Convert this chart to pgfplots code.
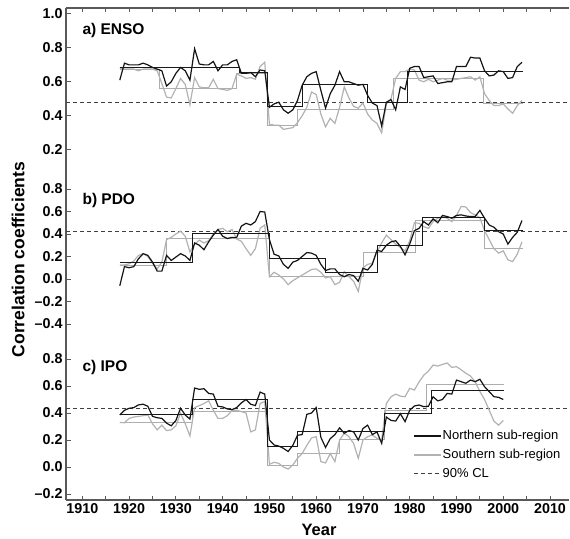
\documentclass[border=0pt]{standalone}
\usepackage{fontspec}
\setmainfont{Liberation Sans}
\usepackage{pgfplots}
\pgfplotsset{compat=1.18}
\usepackage{pgfplotstable}

\pgfplotstableread{
year N S
1918 0.61 0.68
1919 0.71 0.675
1920 0.70 0.675
1921 0.70 0.675
1922 0.70 0.665
1923 0.71 0.675
1924 0.70 0.675
1925 0.685 0.675
1926 0.675 0.665
1927 0.665 0.59
1928 0.575 0.51
1929 0.60 0.505
1930 0.65 0.56
1931 0.685 0.62
1932 0.665 0.585
1933 0.61 0.465
1934 0.795 0.625
1935 0.705 0.57
1936 0.70 0.565
1937 0.70 0.565
1938 0.72 0.615
1939 0.665 0.56
1940 0.70 0.555
1941 0.70 0.55
1942 0.72 0.56
1943 0.73 0.645
1944 0.65 0.635
1945 0.65 0.62
1946 0.655 0.625
1947 0.63 0.615
1948 0.67 0.69
1949 0.665 0.715
1950 0.45 0.35
1951 0.47 0.345
1952 0.48 0.345
1953 0.435 0.32
1954 0.415 0.325
1955 0.435 0.33
1956 0.49 0.36
1957 0.58 0.40
1958 0.63 0.45
1959 0.65 0.54
1960 0.66 0.525
1961 0.55 0.41
1962 0.445 0.335
1963 0.53 0.385
1964 0.58 0.355
1965 0.66 0.45
1966 0.60 0.57
1967 0.60 0.505
1968 0.59 0.455
1969 0.58 0.445
1970 0.585 0.475
1971 0.52 0.41
1972 0.475 0.375
1973 0.46 0.355
1974 0.34 0.30
1975 0.48 0.47
1976 0.495 0.50
1977 0.435 0.62
1978 0.57 0.66
1979 0.555 0.66
1980 0.68 0.675
1981 0.69 0.67
1982 0.69 0.61
1983 0.625 0.60
1984 0.63 0.615
1985 0.635 0.60
1986 0.59 0.61
1987 0.595 0.62
1988 0.60 0.61
1989 0.60 0.61
1990 0.69 0.615
1991 0.69 0.62
1992 0.69 0.625
1993 0.745 0.63
1994 0.74 0.61
1995 0.74 0.63
1996 0.665 0.53
1997 0.635 0.49
1998 0.64 0.46
1999 0.665 0.46
2000 0.66 0.47
2001 0.62 0.44
2002 0.625 0.415
2003 0.69 0.46
2004 0.715 0.49
}\tabA

\pgfplotstableread{
year N S
1918 -0.06 0.125
1919 0.11 0.125
1920 0.10 0.135
1921 0.11 0.16
1922 0.18 0.21
1923 0.225 0.225
1924 0.21 0.20
1925 0.15 0.14
1926 0.07 0.09
1927 0.07 0.15
1928 0.21 0.35
1929 0.165 0.37
1930 0.195 0.40
1931 0.225 0.425
1932 0.205 0.38
1933 0.165 0.24
1934 0.32 0.31
1935 0.30 0.345
1936 0.26 0.32
1937 0.33 0.34
1938 0.39 0.40
1939 0.44 0.44
1940 0.38 0.45
1941 0.36 0.42
1942 0.37 0.44
1943 0.37 0.355
1944 0.47 0.335
1945 0.495 0.27
1946 0.48 0.21
1947 0.51 0.27
1948 0.60 0.45
1949 0.595 0.48
1950 0.35 0.02
1951 0.22 0.06
1952 0.205 0.035
1953 0.13 0.0
1954 0.095 -0.05
1955 0.15 -0.015
1956 0.165 0.01
1957 0.20 0.035
1958 0.235 0.06
1959 0.23 0.085
1960 0.21 0.09
1961 0.13 0.06
1962 0.075 0.01
1963 0.09 0.02
1964 0.09 -0.05
1965 0.04 -0.03
1966 0.02 0.065
1967 0.04 0.02
1968 0.03 -0.02
1969 -0.02 -0.11
1970 0.095 0.10
1971 0.08 0.13
1972 0.13 0.14
1973 0.255 0.24
1974 0.245 0.32
1975 0.30 0.39
1976 0.33 0.35
1977 0.34 0.31
1978 0.29 0.28
1979 0.215 0.25
1980 0.31 0.34
1981 0.43 0.50
1982 0.45 0.495
1983 0.51 0.465
1984 0.48 0.45
1985 0.535 0.51
1986 0.50 0.54
1987 0.565 0.555
1988 0.555 0.54
1989 0.54 0.51
1990 0.565 0.565
1991 0.57 0.645
1992 0.56 0.64
1993 0.555 0.59
1994 0.555 0.57
1995 0.61 0.545
1996 0.54 0.43
1997 0.48 0.35
1998 0.46 0.27
1999 0.42 0.23
2000 0.40 0.25
2001 0.31 0.17
2002 0.37 0.155
2003 0.415 0.22
2004 0.52 0.33
}\tabB

\pgfplotstableread{
year N S
1918 0.385 0.33
1919 0.42 0.328
1920 0.435 0.36
1921 0.44 0.37
1922 0.46 0.375
1923 0.465 0.38
1924 0.45 0.385
1925 0.375 0.32
1926 0.365 0.275
1927 0.36 0.31
1928 0.325 0.27
1929 0.305 0.275
1930 0.345 0.305
1931 0.435 0.40
1932 0.385 0.32
1933 0.355 0.23
1934 0.585 0.44
1935 0.575 0.455
1936 0.58 0.47
1937 0.545 0.49
1938 0.54 0.42
1939 0.45 0.36
1940 0.445 0.36
1941 0.43 0.38
1942 0.425 0.42
1943 0.44 0.42
1944 0.475 0.41
1945 0.50 0.40
1946 0.465 0.26
1947 0.455 0.275
1948 0.555 0.47
1949 0.54 0.485
1950 0.20 0.02
1951 0.163 0.035
1952 0.155 0.027
1953 0.138 0.0
1954 0.115 -0.015
1955 0.16 0.015
1956 0.235 0.064
1957 0.24 0.10
1958 0.39 0.16
1959 0.40 0.215
1960 0.44 0.225
1961 0.22 0.04
1962 0.145 0.03
1963 0.21 0.10
1964 0.24 0.04
1965 0.29 0.20
1966 0.25 0.25
1967 0.27 0.225
1968 0.26 0.175
1969 0.20 0.064
1970 0.285 0.20
1971 0.31 0.225
1972 0.24 0.237
1973 0.26 0.212
1974 0.175 0.20
1975 0.37 0.47
1976 0.345 0.52
1977 0.34 0.54
1978 0.395 0.525
1979 0.336 0.52
1980 0.42 0.583
1981 0.452 0.57
1982 0.459 0.63
1983 0.447 0.68
1984 0.45 0.71
1985 0.52 0.755
1986 0.49 0.748
1987 0.50 0.76
1988 0.545 0.77
1989 0.54 0.738
1990 0.644 0.743
1991 0.632 0.72
1992 0.62 0.694
1993 0.644 0.674
1994 0.632 0.63
1995 0.65 0.56
1996 0.595 0.50
1997 0.558 0.42
1998 0.521 0.34
1999 0.516 0.31
2000 0.50 0.345
}\tabC

\pgfplotsset{
  panel/.style={
    scale only axis, width=503pt, xmin=1906.5, xmax=2014.06,
    axis y line*=left,
    axis line style={draw=black!65, line width=1.2pt},
    tick style={draw=black!65, line width=0.9pt},
    major tick length=4.5pt, minor tick length=4.5pt,
    xtick={1910,1920,...,2010}, minor xtick={1915,1925,...,2005},
    tick align=inside,
    ticklabel style={font=\fontsize{14.3}{16}\selectfont\bfseries},
  },
  serN/.style={color=black!92, line width=1.2pt},
  serS/.style={color=black!30, line width=1.2pt},
  stepN/.style={color=black!90, line width=0.8pt},
  stepS/.style={color=black!32, line width=0.9pt},
  cl/.style={color=black!75, line width=0.9pt, dash pattern=on 4pt off 3pt},
}

\begin{document}
\begin{tikzpicture}
\path[use as bounding box] (0pt,0pt) rectangle (570pt,538pt);

% Panel a) ENSO
\begin{axis}[panel, at={(66pt,371.3pt)}, anchor=south west, height=158.7pt,
  ymin=0.1, ymax=1.035, axis x line*=top, xticklabels={},
  ytick={0.2,0.4,0.6,0.8,1.0}, yticklabels={0.2,0.4,0.6,0.8,1.0}]
\addplot[cl] coordinates {(1906.5,0.48) (2014.06,0.48)};
\addplot[stepS] coordinates {(1918,0.675) (1926.5,0.675) (1926.5,0.563) (1943,0.563) (1943,0.65) (1949.5,0.65) (1949.5,0.343) (1956,0.343) (1956,0.44) (1976.5,0.44) (1976.5,0.62) (1995.7,0.62) (1995.7,0.47) (2004.3,0.47)};
\addplot[serS] table[x=year,y=S] {\tabA};
\addplot[stepN] coordinates {(1918,0.683) (1943.5,0.683) (1943.5,0.655) (1949.5,0.655) (1949.5,0.455) (1957,0.455) (1957,0.585) (1971,0.585) (1971,0.48) (1979.5,0.48) (1979.5,0.66) (2004.3,0.66)};
\addplot[serN] table[x=year,y=N] {\tabA};
\end{axis}

% Panel b) PDO
\begin{axis}[panel, at={(66pt,198pt)}, anchor=south west, height=173.3pt,
  ymin=-0.542, ymax=0.998, axis x line=none,
  ytick={-0.4,-0.2,0,0.2,0.4,0.6,0.8}, yticklabels={–0.4,–0.2,0.0,0.2,0.4,0.6,0.8}]
\addplot[cl] coordinates {(1906.5,0.425) (2014.06,0.425)};
\addplot[stepS] coordinates {(1918,0.12) (1928,0.12) (1928,0.361) (1950,0.361) (1950,0.02) (1970.2,0.02) (1970.2,0.24) (1981.2,0.24) (1981.2,0.522) (1996,0.522) (1996,0.275) (2004.3,0.275)};
\addplot[serS] table[x=year,y=S] {\tabB};
\addplot[stepN] coordinates {(1918,0.145) (1933.5,0.145) (1933.5,0.405) (1950,0.405) (1950,0.183) (1962,0.183) (1962,0.056) (1973,0.056) (1973,0.295) (1982.7,0.295) (1982.7,0.547) (1996,0.547) (1996,0.428) (2004.3,0.428)};
\addplot[serN] table[x=year,y=N] {\tabB};
\end{axis}

% Panel c) IPO
\begin{axis}[panel, at={(66pt,38pt)}, anchor=south west, height=160pt,
  ymin=-0.2444, ymax=0.9407, axis x line*=bottom,
  xticklabels={1910,1920,1930,1940,1950,1960,1970,1980,1990,2000,2010},
  ytick={-0.2,0,0.2,0.4,0.6,0.8}, yticklabels={–0.2,0.0,0.2,0.4,0.6,0.8},
  legend style={draw=none, fill=none, at={(0.69,0.445)}, anchor=north west,
    font=\fontsize{13}{14}\selectfont, row sep=4.5pt, inner sep=0pt,
    nodes={text height=9.5pt, text depth=2.8pt, inner sep=1pt}},
  legend cell align=left,
  legend image code/.code={\draw[#1] (0pt,0pt) -- (27pt,0pt);}]
\addlegendimage{serN, line width=1.4pt}
\addlegendentry{Northern sub-region}
\addlegendimage{serS}
\addlegendentry{Southern sub-region}
\addlegendimage{cl}
\addlegendentry{90\% CL}
\addplot[cl, forget plot] coordinates {(1906.5,0.43) (2014.06,0.43)};
\addplot[stepS, forget plot] coordinates {(1918,0.333) (1933.5,0.333) (1933.5,0.41) (1949.5,0.41) (1949.5,0.015) (1956,0.015) (1956,0.10) (1965,0.10) (1965,0.205) (1974.5,0.205) (1974.5,0.42) (1983.5,0.42) (1983.5,0.61) (2000.2,0.61)};
\addplot[serS, forget plot] table[x=year,y=S] {\tabC};
\addplot[stepN, forget plot] coordinates {(1918,0.39) (1933.5,0.39) (1933.5,0.50) (1949.5,0.50) (1949.5,0.156) (1956,0.156) (1956,0.265) (1974.5,0.265) (1974.5,0.40) (1984.7,0.40) (1984.7,0.565) (2000.2,0.565)};
\addplot[serN, forget plot] table[x=year,y=N] {\tabC};
\end{axis}

\node[anchor=base west, font=\fontsize{15.5}{17}\selectfont\bfseries] at (79pt,503pt) {a) ENSO};
\node[anchor=base west, font=\fontsize{15.5}{17}\selectfont\bfseries] at (79pt,333pt) {b) PDO};
\node[anchor=base west, font=\fontsize{15.5}{17}\selectfont\bfseries] at (79pt,166.3pt) {c) IPO};
\node[rotate=90, font=\fontsize{17.5}{19}\selectfont\bfseries] at (18pt,278.5pt) {Correlation coefficients};
\node[anchor=base, font=\fontsize{16.5}{18}\selectfont\bfseries] at (319pt,2.5pt) {Year};
\end{tikzpicture}
\end{document}
